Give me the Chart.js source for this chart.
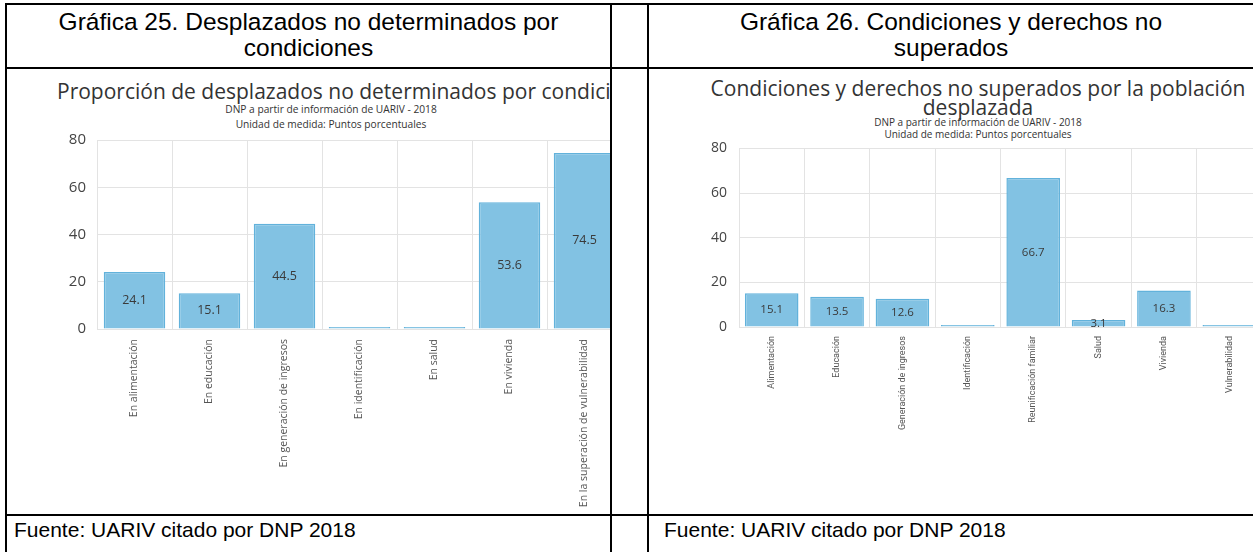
<!DOCTYPE html>
<html>
<head>
<meta charset="utf-8">
<script src="https://cdn.jsdelivr.net/npm/chart.js@4.4.1/dist/chart.umd.min.js"></script>
<style>
html, body { margin: 0; padding: 0; background: #fff; }
body { width: 1253px; height: 552px; position: relative; overflow: hidden; font-family: "Liberation Sans", Arial, sans-serif; }
.ln { position: absolute; background: #000; }
.cell { position: absolute; overflow: hidden; }
.cap { position: absolute; text-align: center; font-size: 24.5px; line-height: 26px; color: #000; white-space: nowrap; }
.src { position: absolute; font-size: 21px; line-height: 24px; color: #000; white-space: nowrap; }
.ttl { position: absolute; white-space: nowrap; font-family: "Open Sans", sans-serif; color: #333; text-align: center; }
canvas { position: absolute; }
</style>
</head>
<body>

<!-- table lines -->
<div class="ln" style="left:5px;top:3px;width:1248px;height:2px"></div>
<div class="ln" style="left:5px;top:67px;width:1248px;height:2px"></div>
<div class="ln" style="left:5px;top:514px;width:1248px;height:2px"></div>
<div class="ln" style="left:5px;top:3px;width:2px;height:549px"></div>
<div class="ln" style="left:610px;top:3px;width:2px;height:549px"></div>
<div class="ln" style="left:647px;top:3px;width:2px;height:549px"></div>

<!-- captions -->
<div class="cap" style="left:7px;top:9px;width:603px">Gráfica 25. Desplazados no determinados por<br>condiciones</div>
<div class="cap" style="left:649px;top:9px;width:604px">Gráfica 26. Condiciones y derechos no<br>superados</div>
<div class="src" style="left:14px;top:518px">Fuente: UARIV citado por DNP 2018</div>
<div class="src" style="left:664px;top:518px">Fuente: UARIV citado por DNP 2018</div>

<!-- left chart -->
<div class="cell" style="left:7px;top:69px;width:603px;height:445px">
  <div class="ttl" style="left:50px;top:10px;font-size:21px;line-height:24px;text-align:left">Proporción de desplazados no determinados por condiciones</div>
  <div class="ttl" style="left:124px;top:33px;width:400px;font-size:10.2px;line-height:15px">DNP a partir de información de UARIV - 2018<br>Unidad de medida: Puntos porcentuales</div>
  <canvas id="chart25" width="582" height="394" style="left:33px;top:51px"></canvas>
</div>

<!-- right chart -->
<div class="cell" style="left:649px;top:69px;width:604px;height:445px">
  <div class="ttl" style="left:29px;top:10px;width:600px;font-size:21px;line-height:19px">Condiciones y derechos no superados por la población<br>desplazada</div>
  <div class="ttl" style="left:129px;top:47px;width:400px;font-size:10px;line-height:12px">DNP a partir de información de UARIV - 2018<br>Unidad de medida: Puntos porcentuales</div>
  <canvas id="chart26" width="568" height="386" style="left:45px;top:59px"></canvas>
</div>

<script>
// Data
const categorias25 = ['En alimentación', 'En educación', 'En generación de ingresos', 'En identificación', 'En salud', 'En vivienda', 'En la superación de vulnerabilidad'];
const valores25 = [24.1, 15.1, 44.5, 0.3, 0.3, 53.6, 74.5];

const categorias26 = ['Alimentación', 'Educación', 'Generación de ingresos', 'Identificación', 'Reunificación familiar', 'Salud', 'Vivienda', 'Vulnerabilidad'];
const valores26 = [15.1, 13.5, 12.6, 0.5, 66.7, 3.1, 16.3, 0.3];

const ticksY = [0, 20, 40, 60, 80];

const gridColor = '#e3e3e3';
const barFill = 'rgb(130,194,227)';
const barLine = 'rgb(98,178,219)';

// value in the middle of each bar, small values get no label
const valueLabels = {
  id: 'valueLabels',
  afterDatasetsDraw(chart, args, opts) {
    const ctx = chart.ctx;
    const area = chart.chartArea;
    ctx.save();
    ctx.beginPath();
    ctx.rect(area.left, area.top, area.right - area.left, area.bottom - area.top);
    ctx.clip();
    ctx.font = opts.size + 'px "Open Sans"';
    ctx.fillStyle = '#3a3a3a';
    ctx.textAlign = 'center';
    ctx.textBaseline = 'middle';
    const values = chart.data.datasets[0].data;
    chart.getDatasetMeta(0).data.forEach((bar, i) => {
      if (values[i] < 1) return;
      ctx.fillText(values[i].toFixed(1), bar.x, (bar.y + bar.base) / 2);
    });
    ctx.restore();
  }
};

function makeChart(id, labels, values, s) {
  return new Chart(document.getElementById(id), {
    type: 'bar',
    data: {
      labels: labels,
      datasets: [{
        data: values,
        backgroundColor: barFill,
        borderColor: barLine,
        borderWidth: 1.5,
        minBarLength: 2,
        barPercentage: 0.82,
        categoryPercentage: 1
      }]
    },
    plugins: [valueLabels],
    options: {
      responsive: false,
      animation: false,
      devicePixelRatio: 1,
      layout: { padding: { top: 1, left: 0, right: 0, bottom: 0 } },
      plugins: {
        legend: { display: false },
        tooltip: { enabled: false },
        valueLabels: { size: s.valueSize }
      },
      scales: {
        x: {
          offset: true,
          grid: { color: gridColor, drawTicks: false, offset: true },
          border: { color: gridColor },
          ticks: {
            autoSkip: false, minRotation: 90, maxRotation: 90, padding: s.xPad,
            color: '#555', font: { family: s.xFamily, size: s.xSize }
          },
          afterFit: scale => { scale.height = s.xHeight; }
        },
        y: {
          min: 0, max: 80,
          grid: { color: gridColor, drawTicks: false },
          border: { color: gridColor },
          afterBuildTicks: scale => { scale.ticks = ticksY.map(v => ({ value: v })); },
          ticks: { padding: s.yPad, color: '#444', font: { family: 'Open Sans', size: s.ySize } },
          afterFit: scale => { scale.width = s.yWidth; }
        }
      }
    }
  });
}

var grafica25 = makeChart('chart25', categorias25, valores25, {
  xHeight: 185, xPad: 10, xFamily: 'Open Sans', xSize: 10.5,
  yWidth: 57, yPad: 11, ySize: 15, valueSize: 12.5
});

var grafica26 = makeChart('chart26', categorias26, valores26, {
  xHeight: 187, xPad: 9, xFamily: '"Liberation Sans Narrow", Roboto', xSize: 9,
  yWidth: 45, yPad: 12, ySize: 14, valueSize: 11.5
});
</script>
</body>
</html>
